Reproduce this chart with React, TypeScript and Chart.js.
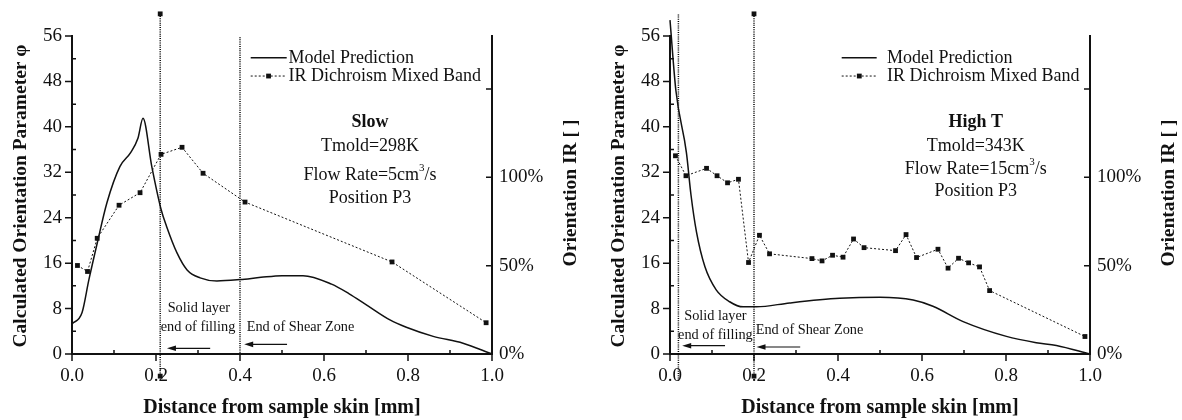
import React, { useEffect, useRef } from 'react';
import { Chart, registerables } from 'chart.js';

Chart.register(...registerables);

const FONT = '"Liberation Serif", "Times New Roman", serif';
const INK = '#111';

// ---- shared axis ticks ----
const xTicks = [0, 0.2, 0.4, 0.6, 0.8, 1.0];
const xMinor = [0.1, 0.3, 0.5, 0.7, 0.9];
const yTicks = [0, 8, 16, 24, 32, 40, 48, 56];
const yMinor = [4, 12, 20, 28, 36, 44, 52];
const y2Ticks = [0, 50, 100, 150];
const y2Labels = ['0%', '50%', '100%', ''];
const legendLabels = ['Model Prediction', 'IR Dichroism Mixed Band'];

// ---- left panel: Slow ----
const slowModelX = [0, 0.024, 0.04, 0.06, 0.083, 0.114, 0.14, 0.157, 0.169, 0.19, 0.212, 0.225, 0.25, 0.274, 0.305, 0.345, 0.4, 0.45, 0.5, 0.55, 0.618, 0.66, 0.7, 0.757, 0.796, 0.86, 0.931, 1.0];
const slowModelY = [5.3, 7.3, 13, 19.5, 26.6, 33, 35.5, 38, 41.5, 33, 25.5, 22.5, 17.8, 14.8, 13.4, 12.85, 13.1, 13.5, 13.8, 13.8, 12.3, 10.6, 8.7, 6.0, 4.7, 3.1, 1.9, 0];
const slowIrX = [0.013, 0.037, 0.06, 0.112, 0.162, 0.212, 0.262, 0.312, 0.412, 0.762, 0.986];
const slowIrY = [50.1, 46.7, 65.5, 84.2, 91.3, 113, 117, 102.3, 86, 52.1, 17.7];
const slowVLineX = [0.21, 0.4];
const slowVLineTop = [59.9, 55.8];
const slowVLineBottom = [-3.9, 0];
const slowVLineMarker = [true, false];

// ---- right panel: High T ----
const highModelX = [0, 0.014, 0.039, 0.05, 0.063, 0.083, 0.11, 0.142, 0.174, 0.206, 0.285, 0.404, 0.5, 0.579, 0.626, 0.698, 0.801, 0.872, 0.92, 1.0];
const highModelY = [58.8, 46.4, 35.5, 28, 21.5, 15.4, 11.3, 9.2, 8.3, 8.3, 9.0, 9.8, 10.0, 9.5, 8.4, 5.7, 3.1, 2.0, 1.5, 0];
const highIrX = [0.013, 0.038, 0.087, 0.112, 0.137, 0.163, 0.187, 0.213, 0.237, 0.338, 0.362, 0.387, 0.412, 0.437, 0.462, 0.537, 0.562, 0.587, 0.638, 0.662, 0.687, 0.711, 0.737, 0.761, 0.988];
const highIrY = [112.2, 100.9, 105.1, 100.9, 96.9, 98.9, 51.8, 67.2, 56.7, 54.0, 52.7, 55.9, 54.8, 65.1, 60.2, 58.5, 67.6, 54.6, 59.3, 48.6, 54.2, 51.6, 49.3, 35.9, 9.9];
const highVLineX = [0.02, 0.2];
const highVLineTop = [59.8, 59.9];
const highVLineBottom = [-4.8, -3.9];
const highVLineMarker = [false, true];

type Part = { t: string; sup?: boolean };
type InfoLine = { parts: Part[]; bold?: boolean; y: number };
type Ann = { text: string; x: number; y: number; align: CanvasTextAlign };
type Arrow = { x0: number; x1: number; y: number };

const slowInfo: InfoLine[] = [
  { parts: [{ t: 'Slow' }], bold: true, y: 40.76 },
  { parts: [{ t: 'Tmold=298K' }], y: 36.66 },
  { parts: [{ t: 'Flow Rate=5cm' }, { t: '3', sup: true }, { t: '/s' }], y: 31.52 },
  { parts: [{ t: 'Position P3' }], y: 27.5 },
];
const highInfo: InfoLine[] = [
  { parts: [{ t: 'High T' }], bold: true, y: 40.76 },
  { parts: [{ t: 'Tmold=343K' }], y: 36.66 },
  { parts: [{ t: 'Flow Rate=15cm' }, { t: '3', sup: true }, { t: '/s' }], y: 32.58 },
  { parts: [{ t: 'Position P3' }], y: 28.74 },
];
const slowAnn: Ann[] = [
  { text: 'Solid layer', x: 0.302, y: 8.05, align: 'center' },
  { text: 'end of filling', x: 0.3, y: 4.63, align: 'center' },
  { text: 'End of Shear Zone', x: 0.416, y: 4.63, align: 'left' },
];
const highAnn: Ann[] = [
  { text: 'Solid layer', x: 0.108, y: 6.7, align: 'center' },
  { text: 'end of filling', x: 0.108, y: 3.35, align: 'center' },
  { text: 'End of Shear Zone', x: 0.204, y: 4.1, align: 'left' },
];
const slowArrows: Arrow[] = [
  { x0: 0.329, x1: 0.226, y: 1.0 },
  { x0: 0.512, x1: 0.41, y: 1.7 },
];
const highArrows: Arrow[] = [
  { x0: 0.131, x1: 0.029, y: 1.46 },
  { x0: 0.31, x1: 0.206, y: 1.23 },
];

type Spec = {
  width: number;
  modelX: number[]; modelY: number[];
  irX: number[]; irY: number[];
  vx: number[]; vTop: number[]; vBottom: number[]; vMarker: boolean[];
  info: InfoLine[]; infoX: number;
  ann: Ann[]; arrows: Arrow[];
  legSample: [number, number]; legMarker: number; legText: number; legY: [number, number];
};

const slowSpec: Spec = {
  width: 598,
  modelX: slowModelX, modelY: slowModelY, irX: slowIrX, irY: slowIrY,
  vx: slowVLineX, vTop: slowVLineTop, vBottom: slowVLineBottom, vMarker: slowVLineMarker,
  info: slowInfo, infoX: 0.7095, ann: slowAnn, arrows: slowArrows,
  legSample: [0.4255, 0.5112], legMarker: 0.468, legText: 0.5155, legY: [52.16, 48.95],
};
const highSpec: Spec = {
  width: 584,
  modelX: highModelX, modelY: highModelY, irX: highIrX, irY: highIrY,
  vx: highVLineX, vTop: highVLineTop, vBottom: highVLineBottom, vMarker: highVLineMarker,
  info: highInfo, infoX: 0.728, ann: highAnn, arrows: highArrows,
  legSample: [0.4088, 0.4921], legMarker: 0.4507, legText: 0.5165, legY: [52.16, 48.95],
};

const zip = (xs: number[], ys: number[]) => xs.map((x, i) => ({ x, y: ys[i] }));
const font = (size: number, bold = false) => `${bold ? 'bold ' : ''}${size}px ${FONT}`;

function drawRich(ctx: CanvasRenderingContext2D, parts: Part[], cx: number, cy: number, size: number, bold: boolean) {
  const supSize = Math.round(size * 0.62);
  let total = 0;
  const widths = parts.map((p) => {
    ctx.font = p.sup ? font(supSize, bold) : font(size, bold);
    const w = ctx.measureText(p.t).width;
    total += w;
    return w;
  });
  let x = cx - total / 2;
  ctx.textAlign = 'left';
  ctx.textBaseline = 'middle';
  parts.forEach((p, i) => {
    ctx.font = p.sup ? font(supSize, bold) : font(size, bold);
    ctx.fillText(p.t, x, p.sup ? cy - size * 0.38 : cy);
    x += widths[i];
  });
}

function makePlugin(spec: Spec) {
  return {
    id: 'deco',
    afterDraw(chart: any) {
      const ctx: CanvasRenderingContext2D = chart.ctx;
      const { left, right, top, bottom } = chart.chartArea;
      const xs = chart.scales.x, ys = chart.scales.y, y2 = chart.scales.y2;
      const X = (v: number) => xs.getPixelForValue(v);
      const Y = (v: number) => ys.getPixelForValue(v);
      ctx.save();
      ctx.strokeStyle = INK;
      ctx.fillStyle = INK;
      ctx.lineWidth = 1.5;
      ctx.setLineDash([]);
      // ticks
      ctx.beginPath();
      xTicks.forEach((v) => { const p = X(v); ctx.moveTo(p, bottom); ctx.lineTo(p, bottom + 7); });
      xMinor.forEach((v) => { const p = X(v); ctx.moveTo(p, bottom); ctx.lineTo(p, bottom - 4); });
      yTicks.forEach((v) => { const p = Y(v); ctx.moveTo(left, p); ctx.lineTo(left - 7, p); });
      yMinor.forEach((v) => { const p = Y(v); ctx.moveTo(left, p); ctx.lineTo(left + 4, p); });
      y2Ticks.forEach((v) => { const p = y2.getPixelForValue(v); ctx.moveTo(right, p); ctx.lineTo(right - 6, p); });
      ctx.stroke();

      // end markers of the vertical marker lines (outside the chart area, so drawn here)
      spec.vx.forEach((_, i) => {
        if (!spec.vMarker[i]) return;
        const meta = chart.getDatasetMeta(2 + i);
        meta.data.forEach((pt: any) => ctx.fillRect(pt.x - 2.4, pt.y - 2.4, 4.8, 4.8));
      });

      // axis titles
      ctx.font = font(20, true);
      ctx.textAlign = 'center';
      ctx.textBaseline = 'alphabetic';
      ctx.fillText('Distance from sample skin [mm]', (left + right) / 2, 413);
      ctx.font = font(19.5, true);
      ctx.save();
      ctx.translate(left - 46, (top + bottom) / 2 + 1);
      ctx.rotate(-Math.PI / 2);
      ctx.fillText('Calculated Orientation Parameter \u03C6', 0, 0);
      ctx.restore();
      ctx.save();
      ctx.translate(right + 84, (top + bottom) / 2 - 2);
      ctx.rotate(-Math.PI / 2);
      ctx.fillText('Orientation IR [ ]', 0, 0);
      ctx.restore();

      // legend
      const [s0, s1] = spec.legSample;
      const ly0 = Y(spec.legY[0]);
      const ly1 = Y(spec.legY[1]);
      ctx.lineWidth = 1.5;
      ctx.beginPath(); ctx.moveTo(X(s0), ly0); ctx.lineTo(X(s1), ly0); ctx.stroke();
      ctx.lineWidth = 1;
      ctx.setLineDash([2, 2]);
      ctx.beginPath(); ctx.moveTo(X(s0), ly1); ctx.lineTo(X(s1), ly1); ctx.stroke();
      ctx.setLineDash([]);
      const mx = X(spec.legMarker);
      ctx.fillRect(mx - 2.4, ly1 - 2.4, 4.8, 4.8);
      ctx.font = font(18);
      ctx.textAlign = 'left';
      ctx.textBaseline = 'middle';
      ctx.fillText(legendLabels[0], X(spec.legText), ly0);
      ctx.fillText(legendLabels[1], X(spec.legText), ly1);

      // info block
      spec.info.forEach((ln) => drawRich(ctx, ln.parts, X(spec.infoX), Y(ln.y), 18, !!ln.bold));

      // annotations
      ctx.font = font(14.3);
      ctx.textBaseline = 'middle';
      spec.ann.forEach((a) => { ctx.textAlign = a.align; ctx.fillText(a.text, X(a.x), Y(a.y)); });
      ctx.lineWidth = 1.2;
      spec.arrows.forEach((a) => {
        const x0 = X(a.x0), x1 = X(a.x1), yy = Y(a.y);
        ctx.beginPath(); ctx.moveTo(x0, yy); ctx.lineTo(x1 + 6, yy); ctx.stroke();
        ctx.beginPath(); ctx.moveTo(x1, yy); ctx.lineTo(x1 + 9, yy - 2.8); ctx.lineTo(x1 + 9, yy + 2.8); ctx.closePath(); ctx.fill();
      });
      ctx.restore();
    },
  };
}

function buildConfig(spec: Spec): any {
  const tickFont = { family: FONT, size: 19 };
  const datasets: any[] = [
    {
      label: legendLabels[0], data: zip(spec.modelX, spec.modelY), yAxisID: 'y',
      borderColor: INK, borderWidth: 1.5, pointRadius: 0, cubicInterpolationMode: 'monotone', clip: false, fill: false,
    },
    {
      label: legendLabels[1], data: zip(spec.irX, spec.irY), yAxisID: 'y2',
      borderColor: INK, borderWidth: 1, borderDash: [2, 2], tension: 0, pointStyle: 'rect', pointRadius: 3.4,
      pointBackgroundColor: INK, pointBorderWidth: 0, clip: false, fill: false,
    },
    ...spec.vx.map((x, i) => ({
      label: 'v' + i, data: [{ x, y: spec.vTop[i] }, { x, y: spec.vBottom[i] }], yAxisID: 'y',
      borderColor: '#000', borderWidth: 1.5, borderDash: [1, 1.2], tension: 0,
      pointRadius: 0, clip: false, fill: false,
    })),
  ];
  return {
    type: 'line',
    data: { datasets },
    options: {
      responsive: false, animation: false, devicePixelRatio: 1,
      layout: { padding: { top: 36, left: 0, right: 0, bottom: 0 } },
      plugins: { legend: { display: false }, tooltip: { enabled: false } },
      scales: {
        x: {
          type: 'linear', min: 0, max: 1,
          afterFit: (s: any) => { s.height = 66; },
          afterBuildTicks: (s: any) => { s.ticks = xTicks.map((value) => ({ value })); },
          ticks: { callback: (v: any) => Number(v).toFixed(1), font: tickFont, color: INK, padding: 11, maxRotation: 0, autoSkip: false },
          grid: { display: false, drawTicks: false },
          border: { display: true, color: INK, width: 2 },
        },
        y: {
          type: 'linear', position: 'left', min: 0, max: 56,
          afterFit: (s: any) => { s.width = 72; },
          afterBuildTicks: (s: any) => { s.ticks = yTicks.map((value) => ({ value })); },
          ticks: { font: tickFont, color: INK, padding: 10, autoSkip: false },
          grid: { display: false, drawTicks: false },
          border: { display: true, color: INK, width: 2 },
        },
        y2: {
          type: 'linear', position: 'right', min: 0, max: 180,
          afterFit: (s: any) => { s.width = spec.width - 492; },
          afterBuildTicks: (s: any) => { s.ticks = y2Ticks.map((value) => ({ value })); },
          ticks: { callback: (v: any) => y2Labels[y2Ticks.indexOf(Number(v))] ?? '', font: tickFont, color: INK, padding: 7, autoSkip: false },
          grid: { display: false, drawTicks: false },
          border: { display: true, color: INK, width: 2 },
        },
      },
    },
    plugins: [makePlugin(spec)],
  };
}

function Panel({ spec, left }: { spec: Spec; left: number }) {
  const ref = useRef<HTMLCanvasElement>(null);
  useEffect(() => {
    if (!ref.current) return;
    const chart = new Chart(ref.current, buildConfig(spec));
    return () => chart.destroy();
  }, [spec]);
  return (
    <canvas
      ref={ref}
      width={spec.width}
      height={420}
      style={{ position: 'absolute', left, top: 0, width: spec.width, height: 420 }}
    />
  );
}

export default function App() {
  return (
    <div style={{ position: 'absolute', left: 0, top: 0, width: 1182, height: 420, background: '#fff', overflow: 'hidden' }}>
      <Panel spec={slowSpec} left={0} />
      <Panel spec={highSpec} left={598} />
    </div>
  );
}
